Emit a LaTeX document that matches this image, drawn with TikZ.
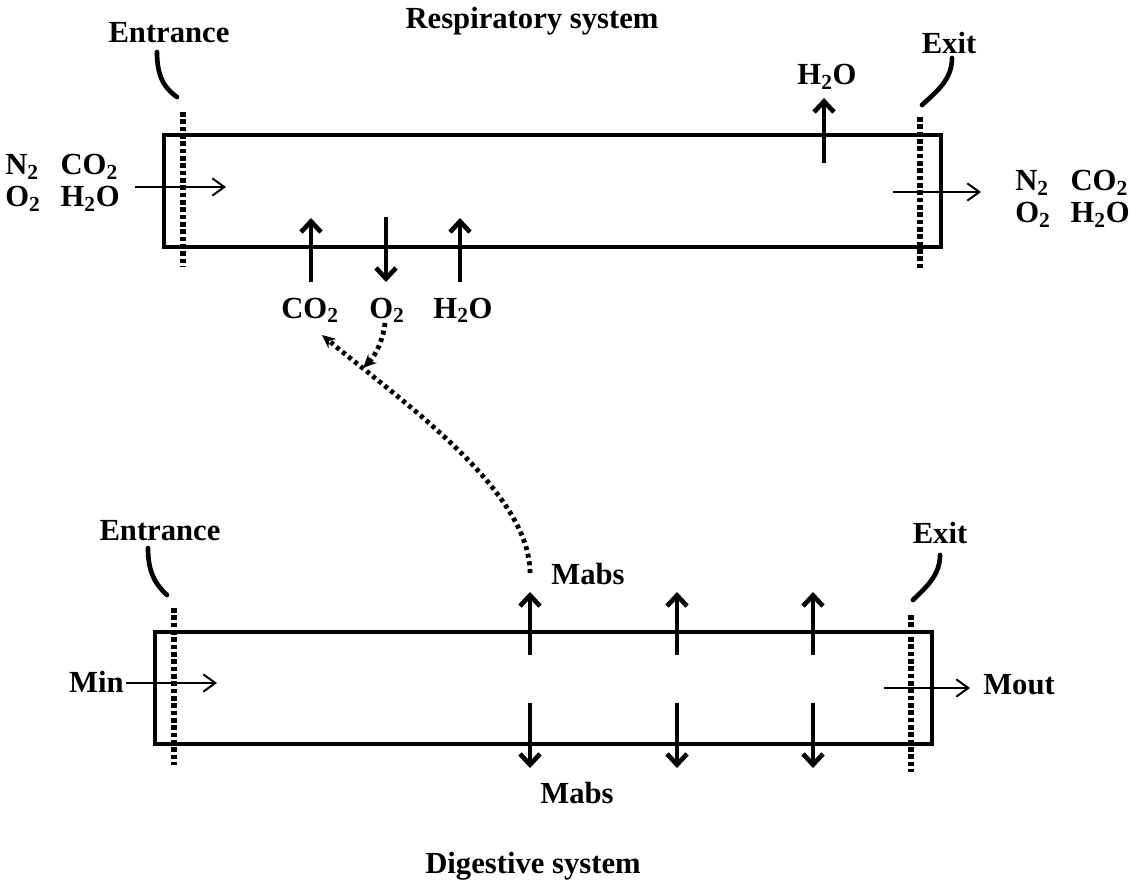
\documentclass[tikz,border=0pt]{standalone}
\usepackage{fontspec}
\setmainfont{Liberation Serif}
\usepackage{tikz}
\usetikzlibrary{
  arrows.meta,
  positioning
}

\begin{document}
\begin{tikzpicture}[x=0.75pt, y=-0.75pt,
  tube/.style={draw, line width=3.5pt, minimum width=582.75pt,
    minimum height=84pt, inner sep=0pt},
  txt/.style={font=\fontsize{23}{23.5}\selectfont\bfseries,
    inner sep=0pt, anchor=base},
  flux/.style={line width=3.5pt, -{Straight Barb[length=8pt,width=15pt]}},
  stream/.style={line width=1.5pt, -{Straight Barb[length=9pt,width=13pt]}},
  border/.style={line width=4.2pt, dash pattern=on 3.5pt off 2pt},
  lead/.style={line width=3.5pt, line cap=round},
  link/.style={line width=3.6pt, dash pattern=on 3pt off 2.8pt,
    -{Stealth[length=10pt,width=9pt]}}]
  \useasboundingbox (0,0) rectangle (1130,884);

  % The two systems, drawn as long boxes. ``resp'' is the
  % respiratory system on top, ``dige'' the digestive one below.
  \node [tube] (resp) at (552.5,191) {};
  \node [tube] (dige) at (543.5,688) {};

  % Their titles.
  \node [txt] (resptitle) at (532,29) {Respiratory system};
  \node [txt] (digetitle) at (533,873) {Digestive system};

  % Entrance and exit of the respiratory system: a label, a
  % small curved leader and a dotted cut across the box.
  \node [txt] (rin) at (169,43) {Entrance};
  \node [txt] (rout) at (949,54) {Exit};
  \draw [lead] (157,52) .. controls (157,76) and (164,88) .. (177,97);
  \draw [lead] (952,58) .. controls (952,80) and (936,92) .. (922,105);
  \draw [border] (183,112) -- (183,267);
  \draw [border] (920,117) -- (920,270);

  % Gases flowing in and out.
  \node [txt, anchor=base west] (gasin) at (5,175)
    {\begin{tabular}[t]{@{}l@{\hspace{15pt}}l@{}}
      N\textsubscript{2} & CO\textsubscript{2}\\
      O\textsubscript{2} & H\textsubscript{2}O
    \end{tabular}};
  \node [txt, anchor=base west] (gasout) at (1015,191)
    {\begin{tabular}[t]{@{}l@{\hspace{15pt}}l@{}}
      N\textsubscript{2} & CO\textsubscript{2}\\
      O\textsubscript{2} & H\textsubscript{2}O
    \end{tabular}};
  \coordinate (rinA) at (135,187);
  \coordinate (rinB) at (226,187);
  \coordinate (routA) at (893,192);
  \coordinate (routB) at (981,192);
  \draw [stream] (rinA) -- (rinB);
  \draw [stream] (routA) -- (routB);

  % Exchanges through the wall of the respiratory system.
  \node [txt] (vapour) at (827,85) {H\textsubscript{2}O};
  \node [txt] (co2) at (310,318) {CO\textsubscript{2}};
  \node [txt] (o2) at (387,318) {O\textsubscript{2}};
  \node [txt] (h2o) at (463,318) {H\textsubscript{2}O};
  \draw [flux] (824,163) -- (824,98);
  \draw [flux] (311,282) -- (311,218);
  \draw [flux] (386,217) -- (386,282);
  \draw [flux] (460,282) -- (460,218);

  % Entrance and exit of the digestive system.
  \node [txt] (din) at (160,540) {Entrance};
  \node [txt] (dout) at (940,543) {Exit};
  \draw [lead] (148,548) .. controls (148,572) and (155,584) .. (167,595);
  \draw [lead] (940,555) .. controls (940,576) and (925,588) .. (913,600);
  \draw [border] (174,608) -- (174,765);
  \draw [border] (911,615) -- (911,772);

  % Matter in and out.
  \node [txt, anchor=base east] (min) at (124,692) {Min};
  \node [txt, anchor=base west] (mout) at (983,694) {Mout};
  \coordinate (dinA) at (126,683);
  \coordinate (dinB) at (217,683);
  \coordinate (doutA) at (884,688);
  \coordinate (doutB) at (970,688);
  \draw [stream] (dinA) -- (dinB);
  \draw [stream] (doutA) -- (doutB);

  % Absorbed matter leaving the digestive system.
  \node [txt] (mabsup) at (588,584) {Mabs};
  \node [txt] (mabsdown) at (577,803) {Mabs};
  \foreach \x in {530,677,813} {
    \draw [flux] (\x,655) -- (\x,592);
    \draw [flux] (\x,703) -- (\x,768);
  }

  % Link between the two systems.
  \coordinate (mabsend) at (530,573);
  \coordinate (co2end) at (322,335);
  \coordinate (o2end) at (363,368);
  \draw [link] (mabsend) .. controls (530,490) and (400,400) .. (co2end);
  \draw [link] (385,323) .. controls (383,340) and (376,355) .. (o2end);
\end{tikzpicture}
\end{document}
